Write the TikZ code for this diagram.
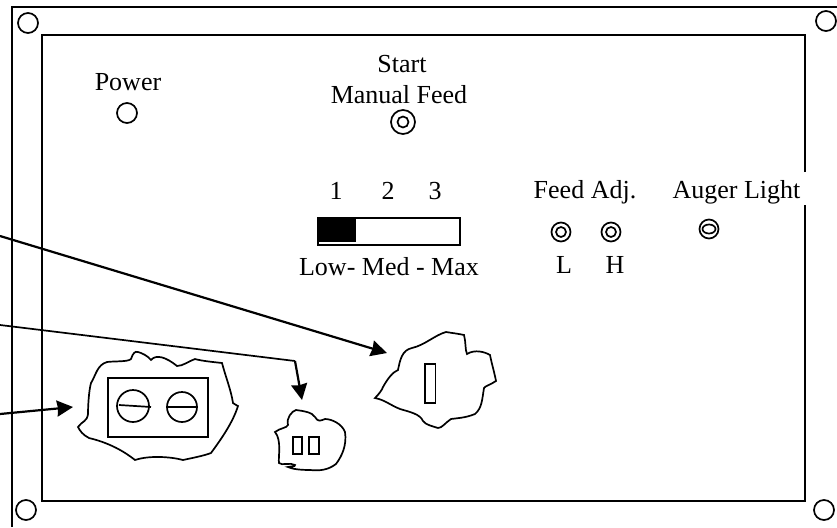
\documentclass[tikz,border=0pt]{standalone}
\usepackage{fontspec}
\setmainfont{Liberation Serif}
\usetikzlibrary{arrows.meta, shapes.geometric}
\tikzset{
	panel/.style={draw, line width=1.9pt},
	knob/.style={draw, circle, line width=1.7pt, minimum size=#1, inner sep=0pt},
	lbl/.style={inner sep=0pt, anchor=base, font=\fontsize{26}{30}\selectfont},
	blob/.style={draw, line width=1.7pt},
	leader/.style={line width=2.2pt, -{Stealth[length=16pt, width=16pt, inset=1pt]}}
}
\begin{document}
\begin{tikzpicture}[x=1pt, y=-1pt]
	\useasboundingbox (0,0) rectangle (837,527);
	% outer plate and inner panel
	\draw[panel] (12,527) -- (12,7) -- (837,7);
	\draw[panel] (805,172) -- (805,35) -- (42,35) -- (42,501) -- (805,501) -- (805,205);
	% corner holes
	\node[knob=20pt] (c0) at (28,23) {};
	\node[knob=20pt] (c1) at (826,21) {};
	\node[knob=20pt] (c2) at (26,510) {};
	\node[knob=20pt] (c3) at (824,510) {};
	% text
	\node[lbl] (power) at (128,90) {Power};
	\node[lbl] (start) at (402,73) {Start};
	\node[lbl] (manual) at (399,103) {Manual Feed};
	\node[lbl] (n1) at (336,199) {1};
	\node[lbl] (n2) at (388,199) {2};
	\node[lbl] (n3) at (435,199) {3};
	\node[lbl] (range) at (389,275) {Low- Med - Max};
	\node[lbl] (feed) at (585,198) {Feed Adj.};
	\node[lbl] (auger) at (736.5,198) {Auger Light};
	\node[lbl] (low) at (564,273) {L};
	\node[lbl] (high) at (615,273) {H};
	% knobs
	\node[knob=20pt] (pw) at (127,113) {};
	\node[knob=24pt] (sm) at (403,122) {};
	\node[knob=11pt] (smi) at (403,122) {};
	\foreach \n/\x/\y in {la/561/232, ha/611/232}
	{	\node[knob=19pt] (\n) at (\x,\y) {};
		\node[knob=10pt] (\n i) at (\x,\y) {};}
	\node[knob=19pt] (au) at (709,229) {};
	\node[draw, ellipse, line width=1.7pt, minimum width=13pt, minimum height=9pt, inner sep=0pt] (aui) at (709,229) {};
	% selector
	\draw[panel] (318,218) rectangle (460,245);
	\fill (317,217) rectangle (356,241.5);
	% right hand cut-out
	\draw[blob] (375,398) .. controls (379,394) and (382,390) .. (383,387) .. controls (388,378) and (393,372) .. (398,370) .. controls (400,360) and (402,350) .. (412,348) .. controls (425,345) and (435,335) .. (446,332) .. controls (452,333) and (460,334) .. (464,335) .. controls (466,342) and (465,350) .. (467,354) .. controls (475,349) and (485,352) .. (490,355) .. controls (492,365) and (495,375) .. (496,381) .. controls (490,385) and (485,386) .. (484,388) .. controls (482,400) and (482,408) .. (475,414) .. controls (465,418) and (458,418) .. (451,419) .. controls (445,423) and (442,428) .. (438,428) .. controls (432,426) and (426,425) .. (423,421) .. controls (420,414) and (410,412) .. (400,409) .. controls (390,405) and (385,400) .. (375,398) -- cycle;
	\draw[line width=1.7pt] (425,364) rectangle (435.5,403);
	% middle cut-out
	\draw[blob] (275,432) .. controls (280,428) and (287,428) .. (288,425) .. controls (286,418) and (292,411) .. (296,410) .. controls (303,411) and (312,412) .. (315,417) .. controls (318,422) and (320,421) .. (325,419) .. controls (332,419) and (342,424) .. (345,432) .. controls (347,445) and (342,456) .. (336,464) .. controls (328,470) and (320,471) .. (310,470) .. controls (300,470) and (292,469) .. (288,467) .. controls (292,466) and (295,467) .. (295,465) .. controls (290,462) and (282,466) .. (279,463) .. controls (278,458) and (282,440) .. (275,432) -- cycle;
	\draw[line width=1.7pt] (293,437) rectangle (302,454);
	\draw[line width=1.7pt] (309,437) rectangle (319,454);
	% left cut-out
	\draw[blob] (78,427) .. controls (82,421) and (87,422) .. (88,414) .. controls (88,405) and (89,390) .. (91,383) .. controls (96,375) and (97,365) .. (107,362) .. controls (115,361) and (128,362) .. (131,359) .. controls (133,353) and (135,351) .. (138,352) .. controls (142,353) and (148,356) .. (151,360) .. controls (156,354) and (166,357) .. (177,366) .. controls (183,366) and (189,361) .. (195,359) .. controls (202,361) and (213,362) .. (222,363) .. controls (226,378) and (231,390) .. (233,403) .. controls (235,405) and (237,405) .. (238,406) .. controls (233,422) and (222,438) .. (211,453) .. controls (203,456) and (192,458) .. (183,460) .. controls (172,457) and (150,455) .. (135,460) .. controls (125,452) and (110,443) .. (89,438) .. controls (83,435) and (80,431) .. (78,427) -- cycle;
	\draw[line width=2pt] (108,378) rectangle (208,437);
	\node[knob=32pt] (s1) at (133,406) {};
	\node[knob=30pt] (s2) at (182,407) {};
	\draw[line width=1.7pt] (119,405) -- (151,407);
	\draw[line width=1.7pt] (166,407) -- (197,407);
	% leaders
	\coordinate (a0) at (0,236);
	\coordinate (a1) at (387,353);
	\coordinate (b0) at (0,325);
	\coordinate (b1) at (295,361);
	\coordinate (b2) at (302,400);
	\coordinate (d0) at (0,414);
	\coordinate (d1) at (73,407);
	\draw[leader] (a0) -- (a1);
	\draw[line width=1.7pt] (b0) -- (b1);
	\draw[leader] (b1) -- (b2);
	\draw[leader] (d0) -- (d1);
\end{tikzpicture}
\end{document}
